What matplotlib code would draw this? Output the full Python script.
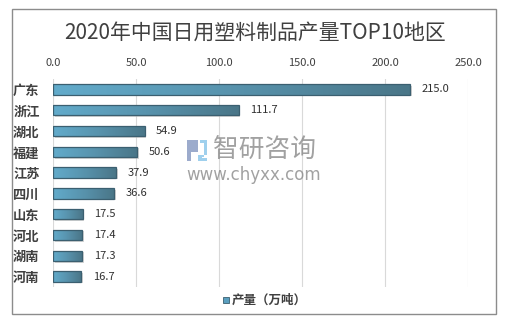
import matplotlib
matplotlib.use("Agg")
import matplotlib.pyplot as plt
import numpy as np
from matplotlib.patches import Rectangle, Polygon
from matplotlib.colors import LinearSegmentedColormap

plt.rcParams['font.family'] = ['Noto Sans CJK SC', 'DejaVu Sans']

regions = ["广东", "浙江", "湖北", "福建", "江苏", "四川", "山东", "河北", "湖南", "河南"]
values = [215.0, 111.7, 54.9, 50.6, 37.9, 36.6, 17.5, 17.4, 17.3, 16.7]
xticks = [0, 50, 100, 150, 200, 250]
title = "2020年中国日用塑料制品产量TOP10地区"
legend_label = "产量（万吨）"

fig = plt.figure(figsize=(5.10, 3.23), dpi=100)
fig.patch.set_facecolor("white")

# outer frame
fig.add_artist(Rectangle((12/510, 1-314/323), (496-12)/510, (314-9)/323,
                         transform=fig.transFigure, fill=False,
                         edgecolor="#8c8c8c", linewidth=1.0))

ax = fig.add_axes([53.5/510, 1-287/323, (468-53.5)/510, (287-79)/323])
y = np.arange(len(regions))
bar_h = 0.5

cmap = LinearSegmentedColormap.from_list("g", ["#62abcb", "#5893ad", "#4a7688"])
grad = np.linspace(0, 1, 256).reshape(1, -1)

bars = ax.barh(y, values, height=bar_h, color="none", edgecolor="none", zorder=3)
for b, v in zip(bars, values):
    x0, yb = b.get_x(), b.get_y()
    w, h = b.get_width(), b.get_height()
    # shadow
    ax.add_patch(Rectangle((x0 + 1.0, yb + 0.08), w, h, facecolor="#b8b8b8",
                           edgecolor="none", alpha=0.6, zorder=2))
    im = ax.imshow(grad, extent=(x0, x0 + w, yb + h, yb), aspect="auto",
                   cmap=cmap, zorder=3)
    clip = Rectangle((x0, yb), w, h, transform=ax.transData, facecolor="none")
    im.set_clip_path(clip)
    ax.add_patch(Rectangle((x0, yb), w, h, facecolor="none",
                           edgecolor="#3b5f70", linewidth=0.9, zorder=4))
    ax.text(v + 7, b.get_y() + h/2, f"{v:.1f}", va="center", ha="left",
            fontsize=8, color="#303030", zorder=5)

ax.set_xlim(0, 250)
ax.set_ylim(len(regions) - 0.5, -0.5)
ax.set_xticks(xticks)
ax.set_xticklabels([f"{t:.1f}" for t in xticks], fontsize=8, color="#404040")
ax.xaxis.tick_top()
ax.tick_params(axis="x", length=0, pad=8)
ax.set_yticks(y)
ax.set_yticklabels(regions, fontsize=9.5, fontweight="bold", color="#404040")
ax.tick_params(axis="y", length=0, pad=10)
ax.grid(axis="x", color="#d9d9d9", linewidth=0.8, zorder=0)
for s in ax.spines.values():
    s.set_visible(False)
ax.set_axisbelow(True)

fig.text(0.5, 1-33/323, title, ha="center", va="center", fontsize=15,
         color="#404040")

# watermark
fig.text(213/510, 1-150/323, "智研咨询", ha="left", va="center", fontsize=18.5,
         color="#8a8a8a", alpha=0.8)
fig.text(186/510, 1-175/323, "www.chyxx.com", ha="left", va="center",
         fontsize=12, family="DejaVu Sans", color="#8a8a8a", alpha=0.8)
logo = fig.add_axes([187/510, 1-161/323, 20/510, 21/323])
logo.axis("off")
logo.set_xlim(0, 1); logo.set_ylim(0, 1)
logo.add_patch(Polygon([(0, 1), (0.55, 1), (0.55, 0.45), (0.2, 0.45), (0.2, 0), (0, 0)],
                       closed=True, facecolor="#8b9dc3", alpha=0.85))
logo.add_patch(Polygon([(0.65, 1), (1, 1), (1, 0.3), (0.55, 0.3), (0.55, 0), (1, 0),
                        (1, 0.12), (0.75, 0.12), (0.75, 0.2), (0.85, 0.2), (0.85, 0.85), (0.65, 0.85)],
                       closed=True, facecolor="#8ec8ea", alpha=0.85))

# legend
fig.add_artist(Rectangle((223/510, 1-303/323), 6/510, 6/323, transform=fig.transFigure,
                         facecolor="#5a9fbf", edgecolor="#3b5f70", linewidth=0.6))
fig.text(232/510, 1-300/323, legend_label, ha="left", va="center", fontsize=9,
         fontweight="bold", color="#404040")

fig.savefig("out.png", dpi=100, facecolor="white")
